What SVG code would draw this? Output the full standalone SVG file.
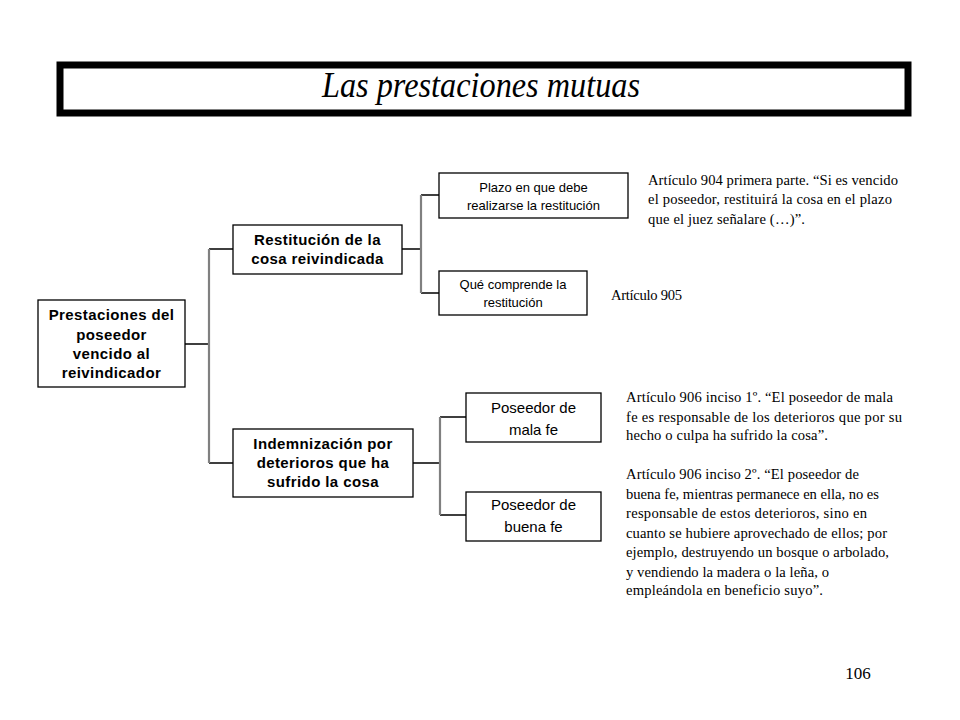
<svg xmlns="http://www.w3.org/2000/svg" width="960" height="720" viewBox="0 0 960 720">
<style>
.box{fill:#fff;stroke:#000;stroke-width:1.3}
.b{font-family:"Liberation Sans",Arial,sans-serif;font-weight:bold;font-size:15px;text-anchor:middle;letter-spacing:0.4px}
.n{font-family:"Liberation Sans",Arial,sans-serif;font-size:13px;text-anchor:middle}
.n15{font-family:"Liberation Sans",Arial,sans-serif;font-size:15px;text-anchor:middle}
.s{font-family:"Liberation Serif","Times New Roman",serif;font-size:14.6px}
.h{stroke:#000;stroke-width:1.5;fill:none}
.v{stroke:#808080;stroke-width:2.2;fill:none}
</style>
<rect width="960" height="720" fill="#fff"/>
<g id="title">
<rect x="60" y="65" width="848" height="48" fill="#fff" stroke="#000" stroke-width="7"/>
<text x="322" y="97" font-family="'Liberation Serif','Times New Roman',serif" font-style="italic" font-size="35" textLength="318" lengthAdjust="spacingAndGlyphs">Las prestaciones mutuas</text>
</g>
<g id="connectors">
<path class="h" d="M185 344H209M209 249H233M209 463H233M402 249H421M421 195H440M421 293H440M413 463H440M440 417H466M440 515H466"/>
<path class="v" d="M209 249V463M421 195V293M440 417V515"/>
</g>
<g id="root">
<rect class="box" x="38" y="300" width="147" height="87"/>
<text class="b" x="111.5" y="320">Prestaciones del</text>
<text class="b" x="111.5" y="340">poseedor</text>
<text class="b" x="111.5" y="359">vencido al</text>
<text class="b" x="111.5" y="378">reivindicador</text>
</g>
<g id="restitucion">
<rect class="box" x="233" y="225" width="169" height="49"/>
<text class="b" x="317.5" y="245">Restitución de la</text>
<text class="b" x="317.5" y="264">cosa reivindicada</text>
</g>
<g id="indemnizacion">
<rect class="box" x="233" y="429" width="180" height="68"/>
<text class="b" x="323" y="449">Indemnización por</text>
<text class="b" x="323" y="468">deterioros que ha</text>
<text class="b" x="323" y="487">sufrido la cosa</text>
</g>
<g id="plazo">
<rect class="box" x="439" y="173" width="189" height="45"/>
<text class="n" x="533.5" y="192">Plazo en que debe</text>
<text class="n" x="533.5" y="210">realizarse  la restitución</text>
</g>
<g id="que">
<rect class="box" x="439" y="271" width="148" height="44"/>
<text class="n" x="513" y="289">Qué comprende la</text>
<text class="n" x="513" y="307">restitución</text>
</g>
<g id="mala">
<rect class="box" x="466" y="393" width="135" height="49"/>
<text class="n15" x="533.5" y="413">Poseedor de</text>
<text class="n15" x="533.5" y="435">mala fe</text>
</g>
<g id="buena">
<rect class="box" x="466" y="492" width="135" height="49"/>
<text class="n15" x="533.5" y="510">Poseedor de</text>
<text class="n15" x="533.5" y="532">buena fe</text>
</g>
<g id="notes">
<text class="s" x="648" y="185" textLength="250">Artículo 904 primera parte. “Si es vencido</text>
<text class="s" x="648" y="204" textLength="244">el poseedor, restituirá la cosa en el plazo</text>
<text class="s" x="648" y="224" textLength="157">que el juez señalare (…)”.</text>
<text class="s" x="611" y="300" textLength="71">Artículo 905</text>
<text class="s" x="626" y="402" textLength="267">Artículo 906 inciso 1º. “El poseedor de mala</text>
<text class="s" x="626" y="422" textLength="276">fe es responsable de los deterioros que por su</text>
<text class="s" x="626" y="440" textLength="202">hecho o culpa ha sufrido la cosa”.</text>
<text class="s" x="626" y="479" textLength="233">Artículo 906 inciso 2º. “El poseedor de</text>
<text class="s" x="626" y="499" textLength="253">buena fe, mientras permanece en ella, no es</text>
<text class="s" x="626" y="518" textLength="241">responsable de estos deterioros, sino en</text>
<text class="s" x="626" y="538" textLength="261">cuanto se hubiere aprovechado de ellos; por</text>
<text class="s" x="626" y="557" textLength="263">ejemplo, destruyendo un bosque o arbolado,</text>
<text class="s" x="626" y="577" textLength="203">y vendiendo la madera o la leña, o</text>
<text class="s" x="626" y="595" textLength="197">empleándola en beneficio suyo”.</text>
<text x="858" y="679" font-family="'Liberation Serif','Times New Roman',serif" font-size="17" text-anchor="middle">106</text>
</g>
</svg>
